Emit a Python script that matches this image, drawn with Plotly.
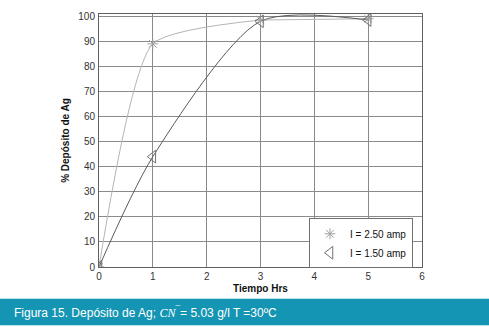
import plotly.graph_objects as go

# Tiempo (horas) y % de depósito de plata
tiempo = [0, 1, 3, 5]
dep_250 = [0, 89, 98.5, 99]
dep_150 = [0, 44, 98, 98.5]

labels = ["I = 2.50 amp", "I = 1.50 amp"]
x_ticks = [0, 1, 2, 3, 4, 5, 6]
y_ticks = [0, 10, 20, 30, 40, 50, 60, 70, 80, 90, 100]

W, H = 489, 327
M_L, M_R, M_T, M_B = 99, 67, 11, 60
FONT = "Liberation Sans, Arial, sans-serif"

fig = go.Figure()

# 2.50 amp: tramo suavizado hasta 3 h y tramo recto hasta 5 h
fig.add_trace(go.Scatter(
    x=tiempo[:3], y=dep_250[:3], mode="lines", showlegend=False, hoverinfo="skip",
    line=dict(color="#b4b4b4", width=1, shape="spline", smoothing=0.55),
))
fig.add_trace(go.Scatter(
    x=tiempo[2:], y=dep_250[2:], mode="lines", showlegend=False, hoverinfo="skip",
    line=dict(color="#b4b4b4", width=1),
))
# 1.50 amp: curva suavizada completa
fig.add_trace(go.Scatter(
    x=tiempo, y=dep_150, mode="lines", showlegend=False, hoverinfo="skip",
    line=dict(color="#5a5a5a", width=1, shape="spline", smoothing=0.75),
))

# marcadores con leyenda
fig.add_trace(go.Scatter(
    x=tiempo, y=dep_250, mode="markers", name=labels[0],
    marker=dict(symbol="asterisk-open", size=9, color="#a0a0a0",
                line=dict(color="#a0a0a0", width=1)),
))
fig.add_trace(go.Scatter(
    x=tiempo, y=dep_150, mode="markers", name=labels[1],
    marker=dict(symbol="triangle-left-open", size=11, color="#707070",
                line=dict(color="#707070", width=1)),
))

axis_common = dict(
    showgrid=True, gridcolor="#8a8a8a", gridwidth=1,
    showline=True, linecolor="#606060", linewidth=1, mirror=True,
    zeroline=False, ticks="", tickfont=dict(family=FONT, size=10, color="#333"),
    title_font=dict(family=FONT, size=10, color="#111"),
)

fig.update_xaxes(range=[0, 6], tickvals=x_ticks,
                 title_text="<b>Tiempo Hrs</b>", title_standoff=3, **axis_common)
fig.update_yaxes(range=[0, 100.9], tickvals=y_ticks,
                 title_text="<b>% Depósito de Ag</b>", title_standoff=6,
                 ticklabelstandoff=1, **axis_common)

plot_h = H - M_T - M_B
plot_w = W - M_L - M_R

def py(pix):
    return (H - M_B - pix) / plot_h

def px(pix):
    return (pix - M_L) / plot_w

fig.add_shape(type="rect", xref="paper", yref="paper",
              x0=px(0), x1=px(W), y0=py(326), y1=py(299),
              fillcolor="#1595b4", line=dict(width=0), layer="below")
fig.add_annotation(
    xref="paper", yref="paper",
    x=px(12), y=py(312.5), xanchor="left", yanchor="middle",
    showarrow=False,
    text=("Figura 15. Depósito de Ag; "
          "<span style='font-family:Liberation Serif, Times New Roman, serif'><i>CN</i></span>"
          "<sup>¯</sup>= 5.03 g/l T =30ºC"),
    font=dict(family=FONT, size=12, color="white"),
)

fig.update_layout(
    width=W, height=H,
    margin=dict(l=M_L, r=M_R, t=M_T, b=M_B),
    paper_bgcolor="white", plot_bgcolor="white",
    legend=dict(
        x=px(413), xanchor="right",
        y=py(243), yanchor="middle",
        bgcolor="white", bordercolor="#707070", borderwidth=1,
        font=dict(family=FONT, size=10, color="#111"),
        tracegroupgap=0, itemwidth=30,
    ),
    showlegend=True,
)

fig.write_html("out.html")
